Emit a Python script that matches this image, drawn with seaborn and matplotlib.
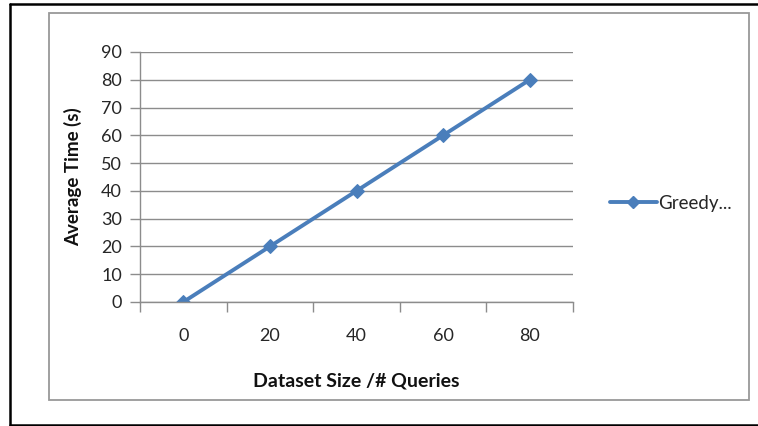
import matplotlib
matplotlib.use("Agg")
import matplotlib.pyplot as plt
from matplotlib.lines import Line2D
import seaborn as sns
import pandas as pd

# Data
dataset_sizes = ["0", "20", "40", "60", "80"]
avg_time = [0, 20, 40, 60, 80]
series_name = "Greedy..."
y_ticks = [0, 10, 20, 30, 40, 50, 60, 70, 80, 90]

sns.set_theme(style="white")
plt.rcParams["font.family"] = ["Lato", "DejaVu Sans"]

W, H = 758, 426
fig = plt.figure(figsize=(W / 100, H / 100), dpi=100)

def fx(px):
    return px / W

def fy(py):
    return 1 - py / H

ax = fig.add_axes([fx(140), fy(302), fx(573) - fx(140), fy(52) - fy(302)])

blue = "#4A7EBB"
grid_gray = "#8C8C8C"
text_col = "#262626"

df = pd.DataFrame({"size": dataset_sizes, "time": avg_time})
sns.lineplot(data=df, x="size", y="time", ax=ax, sort=False, color=blue,
             linewidth=2.8, marker="D", markersize=7.5, markeredgecolor=blue,
             label=series_name, legend=False)

ax.set_xlim(-0.5, len(dataset_sizes) - 0.5)
ax.set_ylim(0, 90)
ax.set_yticks(y_ticks)
ax.yaxis.grid(True, color=grid_gray, linewidth=1.0)
ax.set_axisbelow(True)

# category labels at centres, tick marks at category boundaries
ax.set_xticks(range(len(dataset_sizes)))
ax.set_xticklabels(dataset_sizes)
ax.set_xticks([i - 0.5 for i in range(len(dataset_sizes) + 1)], minor=True)
ax.tick_params(axis="x", which="major", length=0, pad=19, labelsize=13, labelcolor=text_col)
ax.tick_params(axis="x", which="minor", length=7, width=1.0, color=grid_gray, direction="out")
ax.tick_params(axis="y", which="major", length=7, width=1.0, color=grid_gray, direction="out",
               pad=6, labelsize=13, labelcolor=text_col)
ax.tick_params(bottom=True, left=True, which="both")

for side in ["top", "right"]:
    ax.spines[side].set_visible(False)
for side in ["left", "bottom"]:
    ax.spines[side].set_color(grid_gray)
    ax.spines[side].set_linewidth(1.0)

ax.set_xlabel("Dataset Size /# Queries", fontsize=14, fontweight="bold", color="#111111", labelpad=20)
ax.set_ylabel("Average Time (s)", fontsize=13.5, fontweight="bold", color="#111111", labelpad=14)

handle = Line2D([], [], color=blue, linewidth=2.8, marker="D", markersize=6)
fig.legend([handle], [series_name], loc="center left", bbox_to_anchor=(fx(610), fy(203)),
           frameon=False, fontsize=13.5, handlelength=2.5, handletextpad=0.05,
           borderaxespad=0, borderpad=0)

# chart area frame (gray) and outer frame (black)
fig.add_artist(plt.Rectangle((fx(49), fy(400)), fx(749) - fx(49), fy(13) - fy(400),
                             transform=fig.transFigure, fill=False, edgecolor="#999999", linewidth=1.3))
for xs, ys in [([10, 10], [4, 425]), ([10, 758], [4, 4]), ([10, 758], [425, 425])]:
    fig.add_artist(Line2D([fx(x) for x in xs], [fy(y) for y in ys], transform=fig.transFigure,
                          color="black", linewidth=1.8))

fig.savefig("out.png", dpi=100)
